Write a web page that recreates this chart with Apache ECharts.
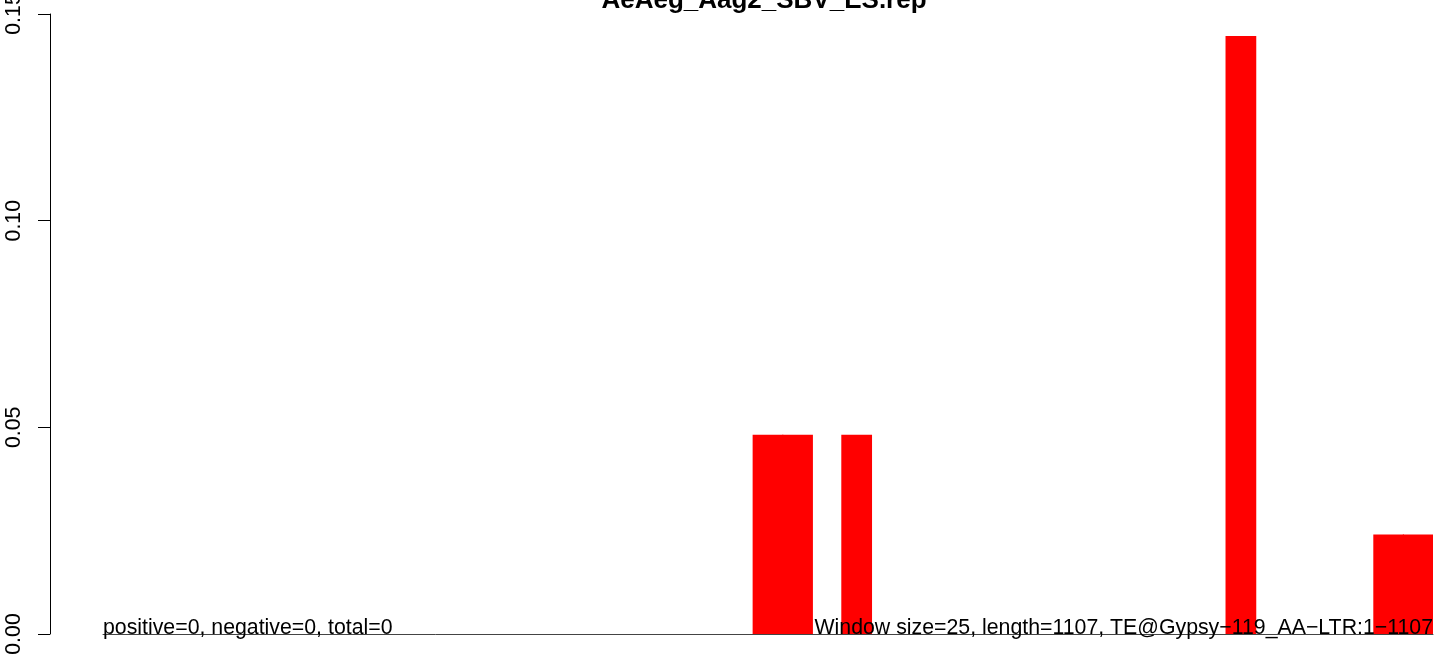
<!DOCTYPE html>
<html>
<head>
<meta charset="utf-8">
<script src="https://cdn.jsdelivr.net/npm/echarts@6/dist/echarts.min.js"></script>
<style>
  html, body { margin: 0; padding: 0; background: #fff; }
  #chart { width: 1441px; height: 656px; }
</style>
</head>
<body>
<div id="chart"></div>
<script>
const chartTitle = "AeAeg_Aag2_SBV_ES.rep";
const leftNote = "positive=0, negative=0, total=0";
const rightNote = "Window size=25, length=1107, TE@Gypsy\u2212119_AA\u2212LTR:1\u22121107";

// window start positions (25 bp windows over 1107 bp)
const windowStarts = [
  1, 26, 51, 76, 101, 126, 151, 176, 201, 226,
  251, 276, 301, 326, 351, 376, 401, 426, 451, 476,
  501, 526, 551, 576, 601, 626, 651, 676, 701, 726,
  751, 776, 801, 826, 851, 876, 901, 926, 951, 976,
  1001, 1026, 1051, 1076, 1101
];

const windowValues = [
  0, 0, 0, 0, 0, 0, 0, 0, 0, 0,
  0, 0, 0, 0, 0, 0, 0, 0, 0, 0,
  0, 0, 0.0482, 0.0482, 0, 0.0482, 0, 0, 0, 0,
  0, 0, 0, 0, 0, 0, 0, 0, 0.1447, 0,
  0, 0, 0, 0.0241, 0.0241
];

const yTicks = [0, 0.05, 0.1, 0.15];
const yLabels = ["0.00", "0.05", "0.10", "0.15"];

const font = "Liberation Sans, Arial, Helvetica, sans-serif";
const chart = echarts.init(document.getElementById("chart"));

const option = {
  animation: false,
  backgroundColor: "#fff",
  grid: {
    left: 103, right: 8, top: 14, bottom: 22,
    containLabel: false,
    outerBoundsMode: "none"
  },
  xAxis: {
    type: "category",
    data: windowStarts,
    boundaryGap: true,
    axisLine: { show: true, lineStyle: { color: "#444", width: 1 } },
    axisTick: { show: false },
    axisLabel: { show: false },
    splitLine: { show: false }
  },
  yAxis: {
    type: "value",
    min: yTicks[0],
    max: yTicks[yTicks.length - 1],
    interval: 0.05,
    offset: 53,
    axisLine: { show: true, lineStyle: { color: "#000", width: 1 } },
    axisTick: { show: true, length: 12, lineStyle: { color: "#000", width: 1 } },
    splitLine: { show: false },
    axisLabel: {
      rotate: 90,
      margin: 25,
      color: "#000",
      fontSize: 21.3,
      fontFamily: font,
      hideOverlap: false,
      formatter: (v) => yLabels[yTicks.findIndex((t) => Math.abs(t - v) < 1e-9)] || ""
    }
  },
  series: [
    {
      type: "bar",
      data: windowValues,
      barWidth: "104%",
      itemStyle: { color: "#ff0000" },
      z: 2
    }
  ],
  graphic: [
    {
      type: "text",
      z: 100,
      x: 764,
      y: -12,
      style: {
        text: chartTitle,
        font: "bold 26px " + font,
        fill: "#000",
        align: "center",
        verticalAlign: "top"
      }
    },
    {
      type: "text",
      z: 100,
      x: 103,
      y: 639,
      style: {
        text: leftNote,
        font: "21.3px " + font,
        fill: "#000",
        align: "left",
        verticalAlign: "bottom"
      }
    },
    {
      type: "text",
      z: 100,
      x: 1433,
      y: 639,
      style: {
        text: rightNote,
        font: "21.3px " + font,
        fill: "#000",
        align: "right",
        verticalAlign: "bottom"
      }
    }
  ]
};

chart.setOption(option);
</script>
</body>
</html>
